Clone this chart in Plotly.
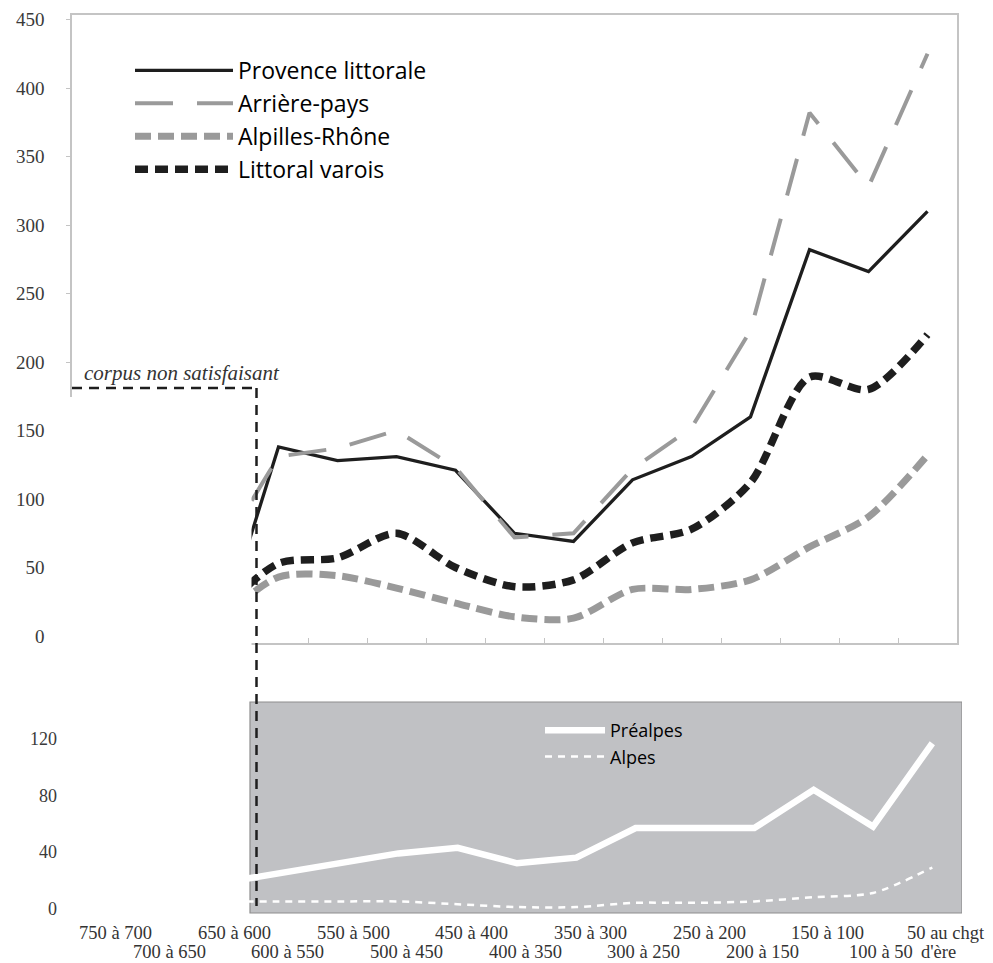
import plotly.graph_objects as go

# ---------------- data ----------------
periods = ["750 à 700", "700 à 650", "650 à 600", "600 à 550", "550 à 500",
           "500 à 450", "450 à 400", "400 à 350", "350 à 300", "300 à 250",
           "250 à 200", "200 à 150", "150 à 100", "100 à 50", "50 au chgt d'ère"]
tick_labels = ["750 à 700", "700 à 650", "650 à 600", "600 à 550", "550 à 500",
               "500 à 450", "450 à 400", "400 à 350", "350 à 300", "300 à 250",
               "250 à 200", "200 à 150", "150 à 100", "100 à 50", "50 au chgt<br>d'ère"]

provence_littorale = [None, None, 0, 138, 128, 131, 121, 75, 69, 114, 131, 160, 282, 266, 310]
arriere_pays = [None, None, 60, 131, 137, 150, 123, 72, 75, 122, 152, 223, 382, 328, 425]
alpilles_rhone = [None, None, 11, 43, 44, 35, 24, 14, 13, 34, 34, 41, 65, 87, 132]
littoral_varois = [None, None, 17, 53, 57, 75, 50, 36, 41, 68, 78, 112, 189, 180, 220]
prealpes = [None, None, 18, 25, 32, 39, 43, 32, 36, 57, 57, 57, 84, 58, 117]
alpes = [None, None, 5, 5, 5, 5, 3, 1, 1, 4, 4, 5, 8, 11, 29]

top_ticks = [0, 50, 100, 150, 200, 250, 300, 350, 400, 450]
bottom_ticks = [0, 40, 80, 120]
first_reliable = "600 à 550"
corpus_note = "corpus non satisfaisant"

# ---------------- layout helpers ----------------
PAGE_W, PAGE_H = 993, 963
BODY = 8                       # default page margin before the figure div
W, H = PAGE_W - BODY, PAGE_H - BODY


def px(x):
    """window pixel -> paper x"""
    return (x - BODY) / W


def py(y):
    """window pixel -> paper y"""
    return 1 - (y - BODY) / H


BLACK = "#1e1e1e"
GREY = "#9a9a9a"
AXIS = "#c4c4c4"
SERIF = "Liberation Serif"
SANS = "Open Sans"

fig = go.Figure()

fig.add_trace(go.Scatter(x=periods, y=provence_littorale, name="Provence littorale",
                         mode="lines", line=dict(color=BLACK, width=3.3),
                         xaxis="x", yaxis="y", legend="legend"))
fig.add_trace(go.Scatter(x=periods, y=arriere_pays, name="Arrière-pays",
                         mode="lines", line=dict(color=GREY, width=4, dash="38px,24px"),
                         xaxis="x", yaxis="y", legend="legend"))
fig.add_trace(go.Scatter(x=periods, y=alpilles_rhone, name="Alpilles-Rhône",
                         mode="lines", line=dict(color=GREY, width=7, dash="16px,7px",
                                                 shape="spline", smoothing=0.8),
                         xaxis="x", yaxis="y", legend="legend"))
fig.add_trace(go.Scatter(x=periods, y=littoral_varois, name="Littoral varois",
                         mode="lines", line=dict(color=BLACK, width=7.5, dash="13px,7px",
                                                 shape="spline", smoothing=0.8),
                         xaxis="x", yaxis="y", legend="legend"))
fig.add_trace(go.Scatter(x=periods, y=prealpes, name="Préalpes",
                         mode="lines", line=dict(color="white", width=6.5),
                         xaxis="x2", yaxis="y2", legend="legend2"))
fig.add_trace(go.Scatter(x=periods, y=alpes, name="Alpes",
                         mode="lines", line=dict(color="white", width=2.5, dash="7px,6px",
                                                 shape="spline", smoothing=0.8),
                         xaxis="x2", yaxis="y2", legend="legend2"))

cut = periods.index(first_reliable) - 0.5

shapes = [
    # grey background of the lower panel (reliable corpus only)
    dict(type="rect", xref="x2", yref="y2 domain", x0=cut, x1=len(periods) - 0.5,
         y0=0, y1=1, fillcolor="#c0c1c4", line=dict(color="#8e8e8e", width=1.2),
         layer="below"),
    # white box hiding the unreliable part of the upper panel
    dict(type="rect", xref="paper", yref="paper", x0=px(60), x1=px(251.5),
         y0=py(652), y1=py(397), fillcolor="white", line=dict(width=0),
         layer="above"),
    dict(type="line", xref="paper", yref="paper", x0=px(72), x1=px(256.5),
         y0=py(388), y1=py(388), line=dict(color=BLACK, width=2.5, dash="10px,7px"),
         layer="above"),
    dict(type="line", xref="paper", yref="paper", x0=px(256.5), x1=px(256.5),
         y0=py(388), y1=py(906), line=dict(color=BLACK, width=2.5, dash="10px,7px"),
         layer="above"),
]

annotations = [
    dict(text="<i>" + corpus_note + "</i>", xref="paper", yref="paper",
         x=px(82), y=py(373), xanchor="left", yanchor="middle", showarrow=False,
         font=dict(family=SERIF, size=21, color="#333333")),
]

row_y = [py(933), py(952)]
row_shift = [14, 8]
for i, lab in enumerate(tick_labels):
    row = i % 2
    for j, part in enumerate(lab.split("<br>")):
        r = row + j
        annotations.append(dict(
            text=part, xref="x2", yref="paper", x=periods[i], y=row_y[r],
            xanchor="center", yanchor="middle", showarrow=False,
            xshift=row_shift[r] if j == 0 else 6,
            font=dict(family=SERIF, size=18.5, color="#333333")))

fig.update_layout(
    width=W, height=H,
    margin=dict(l=0, r=0, t=0, b=0, pad=0),
    paper_bgcolor="white", plot_bgcolor="rgba(0,0,0,0)",
    showlegend=True,
    xaxis=dict(domain=[px(72), px(957)], type="category", categoryorder="array",
               categoryarray=periods, range=[-0.5, len(periods) - 0.5],
               showline=True, linecolor=AXIS, linewidth=1.5, mirror=True,
               ticks="inside", tickson="boundaries", ticklen=5, tickcolor=AXIS,
               showticklabels=False, showgrid=False, zeroline=False, anchor="y",
               automargin=False),
    yaxis=dict(domain=[py(643), py(15)], range=[-5.1, 453.3], tickmode="array",
               tickvals=top_ticks, ticks="outside", ticklen=4, tickcolor=AXIS,
               showline=True, linecolor=AXIS, linewidth=1.5, mirror=True,
               showgrid=False, zeroline=False, ticklabelstandoff=18,
               tickfont=dict(family=SERIF, size=19, color="#3a3a3a"), anchor="x",
               automargin=False),
    xaxis2=dict(domain=[px(72), px(962)], type="category", categoryorder="array",
                categoryarray=periods, range=[-0.5, len(periods) - 0.5],
                showline=False, ticks="", showticklabels=False, showgrid=False,
                zeroline=False, anchor="y2", automargin=False),
    yaxis2=dict(domain=[py(913), py(702)], range=[-3.2, 146.2], tickmode="array",
                tickvals=bottom_ticks, ticks="", showline=False, showgrid=False,
                zeroline=False, ticklabelstandoff=14,
                tickfont=dict(family=SERIF, size=18, color="#3a3a3a"), anchor="x2",
                automargin=False),
    legend=dict(x=px(130), y=py(49), xanchor="left", yanchor="top",
                bgcolor="rgba(0,0,0,0)", itemwidth=98,
                font=dict(family=SANS, size=23, color="black")),
    legend2=dict(x=px(540), y=py(712), xanchor="left", yanchor="top",
                 bgcolor="rgba(0,0,0,0)", itemwidth=60,
                 font=dict(family=SANS, size=18, color="black")),
    shapes=shapes,
    annotations=annotations,
)

fig.write_html("out.html")
